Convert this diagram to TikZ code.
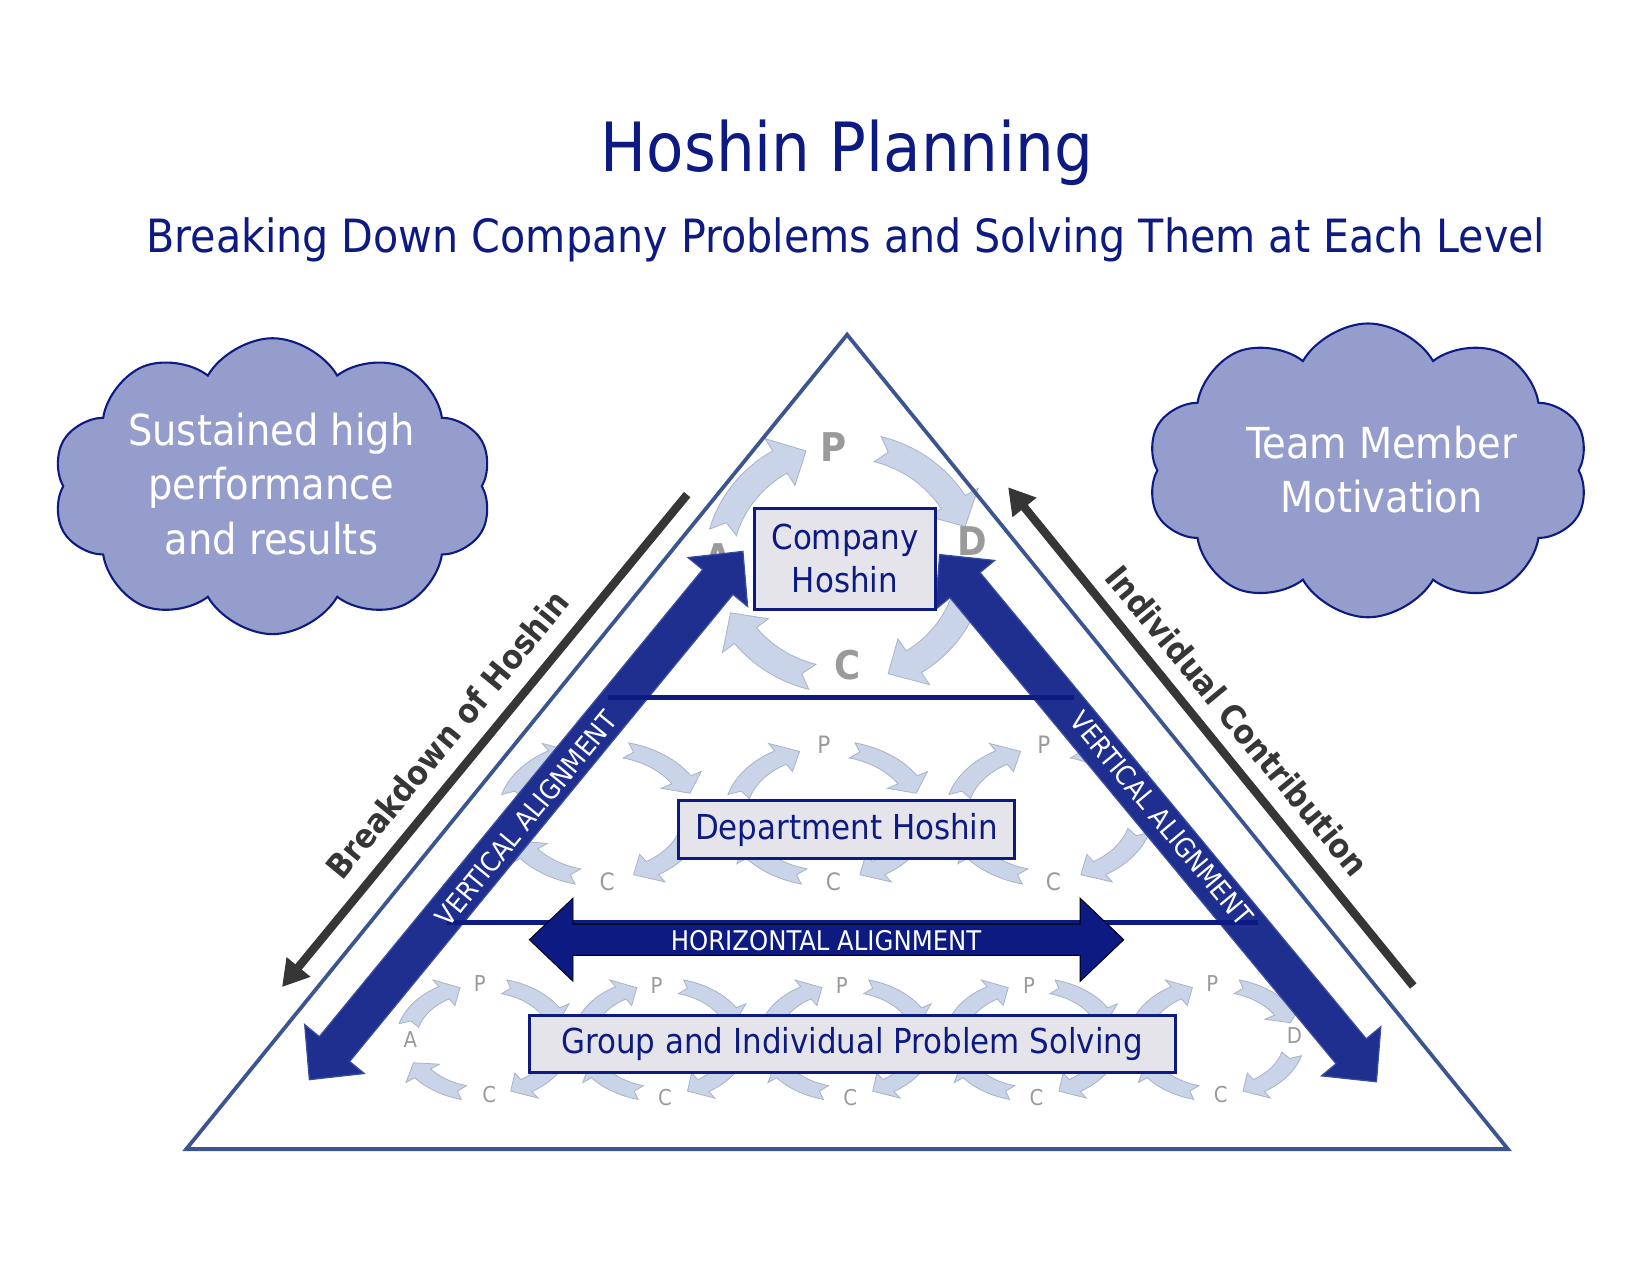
\documentclass[tikz,border=0pt]{standalone}
\usepackage{fontspec}
\setmainfont{DejaVu Sans Condensed}
\usetikzlibrary{calc,shapes.symbols,arrows.meta}

\definecolor{navy}{HTML}{0C1A82}
\definecolor{tri}{HTML}{3A5592}
\definecolor{band}{HTML}{1F2F8F}
\definecolor{bandline}{HTML}{3A4E9E}
\definecolor{cloudfill}{HTML}{949DCB}
\definecolor{cycfill}{HTML}{C9D4E8}
\definecolor{cycline}{HTML}{A9B4CA}
\definecolor{cyctext}{HTML}{9A9A9A}
\definecolor{boxfill}{HTML}{E4E4EA}
\definecolor{darkgr}{HTML}{363636}

\tikzset{
 cyc/.style={fill=cycfill, draw=cycline, line width=0.4pt},
 hbox/.style={draw=navy, line width=1.5pt, fill=boxfill, text=navy, inner sep=0pt, align=center, font=\fontsize{16.5}{20.7}\selectfont},
 cloudshape/.style={cloud, cloud puffs=10, cloud puff arc=120, aspect=1.49, draw=navy, line width=1pt, fill=cloudfill, inner sep=0pt},
 cloudtext/.style={text=white, align=center, font=\fontsize{20.5}{26}\selectfont},
 bandtext/.style={text=white, inner sep=0pt, font=\fontsize{13}{13}\selectfont},
 sidelabel/.style={text=darkgr, inner sep=0pt, font=\bfseries\fontsize{16}{16}\selectfont},
 bigarrow/.style={draw=darkgr, line width=4pt, -{Triangle[length=12.5pt,width=14pt]}},
 topletter/.style={text=cyctext, inner sep=0pt, font=\bfseries\fontsize{19}{19}\selectfont},
 smallletter/.style={text=cyctext, inner sep=0pt, font=\fontsize{11.5}{11.5}\selectfont},
 tinyletter/.style={text=cyctext, inner sep=0pt, font=\fontsize{10.5}{10.5}\selectfont},
 vband/.style={fill=band, draw=bandline, line width=0.6pt},
 hband/.style={fill=navy},
 tier/.style={draw=navy, line width=2.5pt},
 trian/.style={draw=tri, line width=1.8pt, line join=miter},
}

\newcommand\cycarrow[4]{%
  \pgfmathsetmacro\ra{1+#3}\pgfmathsetmacro\rb{1-#3}%
  \pgfmathsetmacro\rc{1+2.1*#3}\pgfmathsetmacro\rd{1-2.1*#3}%
  \pgfmathsetmacro\eh{#2-#4}\pgfmathsetmacro\sn{#1+5}%
  \filldraw[cyc] (#1:\ra) arc[start angle=#1, end angle=\eh, radius=\ra] -- (\eh:\rc) -- (#2:1) -- (\eh:\rd) -- (\eh:\rb) arc[start angle=\eh, end angle=#1, radius=\rb] -- (\sn:1) -- cycle;}

\newcommand\pdca[5]{%
  \begin{scope}[shift={(#1,#2)},xscale=#3,yscale=#4]
    \cycarrow{195}{252}{#5}{13}
    \cycarrow{285}{342}{#5}{13}
    \cycarrow{15}{70}{#5}{13}
    \cycarrow{105}{155}{#5}{13}
  \end{scope}}

\newcommand\blockarrow[6]{%
  \path ($(#1)!#5!(#2)$) coordinate (ha) ($(#2)!#5!(#1)$) coordinate (hb);
  \filldraw[#6] (#1) -- ($(ha)!#4!90:(#2)$) -- ($(ha)!#3!90:(#2)$) -- ($(hb)!#3!-90:(#1)$) -- ($(hb)!#4!-90:(#1)$) -- (#2) -- ($(hb)!#4!90:(#1)$) -- ($(hb)!#3!90:(#1)$) -- ($(ha)!#3!-90:(#2)$) -- ($(ha)!#4!-90:(#2)$) -- cycle;}

\begin{document}
\begin{tikzpicture}[x=0.505pt,y=-0.505pt]
\useasboundingbox (0,0) rectangle (1568,1211.7);

% clouds
\node[cloudshape, minimum width=211pt, minimum height=142pt] (cloudL) at (259,462) {};
\node[cloudtext] (cloudLt) at (258,460) {Sustained high\\performance\\and results};
\node[cloudshape, minimum width=212pt, minimum height=141pt] (cloudR) at (1300,447) {};
\node[cloudtext] (cloudRt) at (1313,446) {Team Member\\Motivation};

% PDCA cycles
\pdca{803}{535}{120}{112}{0.11}
\pdca{572}{773}{88}{62}{0.12}
\pdca{787}{773}{88}{62}{0.12}
\pdca{997}{773}{88}{62}{0.12}
\foreach \cx in {460,628,804,981,1156} {\pdca{\cx}{988}{74}{52}{0.13}}

\node[topletter] (tP) at (792,425) {P};
\node[topletter] (tD) at (924,514) {D};
\node[topletter] (tC) at (805,632) {C};
\node[topletter] (tA) at (683,530) {A};

\node[smallletter] (mP2) at (783,708) {P};
\node[smallletter] (mP3) at (992,708) {P};
\node[smallletter] (mC1) at (577,838) {C};
\node[smallletter] (mC2) at (792,838) {C};
\node[smallletter] (mC3) at (1001,838) {C};

\node[tinyletter] (bP1) at (456,935) {P};
\node[tinyletter] (bP2) at (624,937) {P};
\node[tinyletter] (bP3) at (800,937) {P};
\node[tinyletter] (bP4) at (978,937) {P};
\node[tinyletter] (bP5) at (1152,935) {P};
\node[tinyletter] (bC1) at (465,1040) {C};
\node[tinyletter] (bC2) at (632,1043) {C};
\node[tinyletter] (bC3) at (808,1043) {C};
\node[tinyletter] (bC4) at (985,1043) {C};
\node[tinyletter] (bC5) at (1160,1040) {C};
\node[tinyletter] (bA1) at (390,988) {A};
\node[tinyletter] (bD5) at (1230,984) {D};

% triangle
\coordinate (apex) at (805,318);
\coordinate (bl) at (177,1092);
\coordinate (br) at (1433,1092);
\draw[trian] (apex) -- (bl) -- (br) -- cycle;

% vertical alignment arrows
\coordinate (vl1) at (294,1026);
\coordinate (vl2) at (706,524);
\coordinate (vr1) at (893,527);
\coordinate (vr2) at (1308,1028);
\blockarrow{vl1}{vl2}{9.4pt}{18.5pt}{19pt}{vband}
\blockarrow{vr1}{vr2}{9.4pt}{18.5pt}{19pt}{vband}

% tier lines
\coordinate (t1l) at (578,663);
\coordinate (t1r) at (1021,663);
\coordinate (t2l) at (425,877);
\coordinate (t2r) at (1195,877);
\draw[tier] (t1l) -- (t1r);
\draw[tier] (t2l) -- (t2r);

% horizontal alignment arrow
\coordinate (hl) at (503,893);
\coordinate (hr) at (1068,893);
\blockarrow{hl}{hr}{7.5pt}{20pt}{21pt}{hband}

% boxes
\node[hbox, minimum width=86.9pt, minimum height=48.5pt] (company) at (803,531) {Company\\Hoshin};
\node[hbox, minimum width=161pt, minimum height=27.8pt] (dept) at (804.5,788.5) {Department Hoshin};
\node[hbox, minimum width=310pt, minimum height=27.3pt] (group) at (810,992) {Group and Individual Problem Solving};

% band texts
\node[bandtext, rotate=50.6] (vtl) at (500,778) {VERTICAL ALIGNMENT};
\node[bandtext, rotate=-50.3] (vtr) at (1104,778) {VERTICAL ALIGNMENT};
\node[bandtext] (ht) at (785,894) {HORIZONTAL ALIGNMENT};

% side arrows
\coordinate (bdS) at (653,470);
\coordinate (bdE) at (268,938);
\coordinate (icS) at (1343,937);
\coordinate (icE) at (958,463);
\draw[bigarrow] (bdS) -- (bdE);
\draw[bigarrow] (icS) -- (icE);
\node[sidelabel, rotate=50.6] (bdl) at (425,698) {Breakdown of Hoshin};
\node[sidelabel, rotate=-50.4] (icl) at (1176,685) {Individual Contribution};

% titles
\node[anchor=base, text=navy, inner sep=0pt, font=\fontsize{32.6}{32.6}\selectfont] (title) at (805,163) {Hoshin Planning};
\node[anchor=base, text=navy, inner sep=0pt, font=\fontsize{22}{22}\selectfont] (sub) at (804,240) {Breaking Down Company Problems and Solving Them at Each Level};
\end{tikzpicture}
\end{document}
